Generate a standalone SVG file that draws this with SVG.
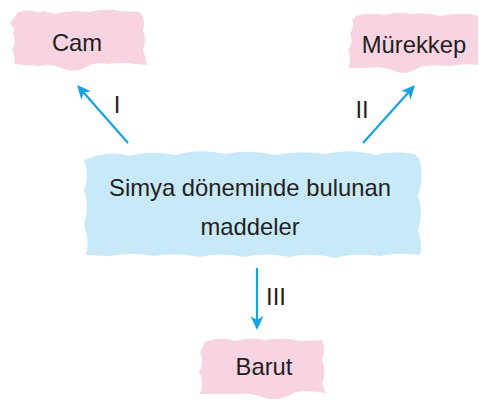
<svg xmlns="http://www.w3.org/2000/svg" width="479" height="404" viewBox="0 0 479 404">
<defs>
<style>
.pink{fill:#f8d3e2;}
.blue{fill:#c8e9f8;}
.t{font-family:"Liberation Sans",Arial,sans-serif;font-size:23.8px;fill:#231f20;}
.c{stroke:#16a3e3;stroke-width:2.2;fill:none;}
</style>
<marker id="ah" markerUnits="userSpaceOnUse" markerWidth="16" markerHeight="14" refX="9" refY="6.5" orient="auto">
<path d="M0,0 L14,6.5 L0,13 L4,6.5 Z" fill="#16a3e3"/>
</marker>
</defs>
<rect width="479" height="404" fill="#ffffff"/>
<g id="connectors">
<line class="c" x1="128" y1="143" x2="80.3" y2="88.8" marker-end="url(#ah)"/>
<line class="c" x1="363" y1="143" x2="411.7" y2="88.7" marker-end="url(#ah)"/>
<line class="c" x1="257" y1="268" x2="257" y2="325" marker-end="url(#ah)"/>
<text class="t" x="117" y="113" text-anchor="middle">I</text>
<text class="t" x="362" y="118" text-anchor="middle">II</text>
<text class="t" x="276" y="305" text-anchor="middle">III</text>
</g>
<g id="cam">
<path class="pink" d="M18,12 L30,10 Q38,14 42,11 L56,14 Q70,10 90,12 Q105,8 120,11 L140,12 Q146,20 143,30 Q147,40 143,50 Q146,58 147,65 L135,64 Q120,62 108,64 Q95,62 88,66 Q75,74 62,68 Q50,63 40,66 L14,64 Q16,56 12,50 Q17,42 13,34 Q16,28 10,24 Z"/>
<text class="t" x="77" y="51" text-anchor="middle">Cam</text>
</g>
<g id="murekkep">
<path class="pink" d="M356,16 Q370,12 385,15 Q398,11 412,14 Q425,12 440,16 Q455,13 470,14 L478,16 L478,65 Q465,63 450,66 Q430,64 420,67 Q405,77 392,70 Q380,66 365,68 L348,68 Q352,58 348,50 Q354,42 350,34 Q355,26 352,20 Z"/>
<text class="t" x="414" y="53" text-anchor="middle">Mürekkep</text>
</g>
<g id="simya">
<path class="blue" d="M90,158 Q110,150 130,156 Q150,150 175,155 Q200,148 225,154 Q250,149 275,155 Q300,150 325,154 Q350,148 375,155 Q395,150 415,154 L420,160 Q424,180 418,195 Q424,215 418,230 Q423,245 420,255 Q400,252 380,256 Q355,252 335,258 Q310,252 290,257 Q265,252 245,257 Q220,252 200,257 Q175,252 155,256 Q130,252 110,256 L86,255 Q90,240 84,225 Q90,205 84,190 Q90,175 84,160 Z"/>
<text class="t" x="250" y="196" text-anchor="middle">Simya döneminde bulunan</text>
<text class="t" x="250" y="235" text-anchor="middle">maddeler</text>
</g>
<g id="barut">
<path class="pink" d="M205,342 Q220,336 235,341 Q250,337 265,340 Q285,337 300,341 L322,340 Q326,350 322,360 Q327,372 322,384 L326,393 Q310,390 295,392 Q280,402 265,398 Q250,392 235,394 L200,394 Q205,382 199,372 Q205,362 200,352 Z"/>
<text class="t" x="264" y="375" text-anchor="middle">Barut</text>
</g>
</svg>
